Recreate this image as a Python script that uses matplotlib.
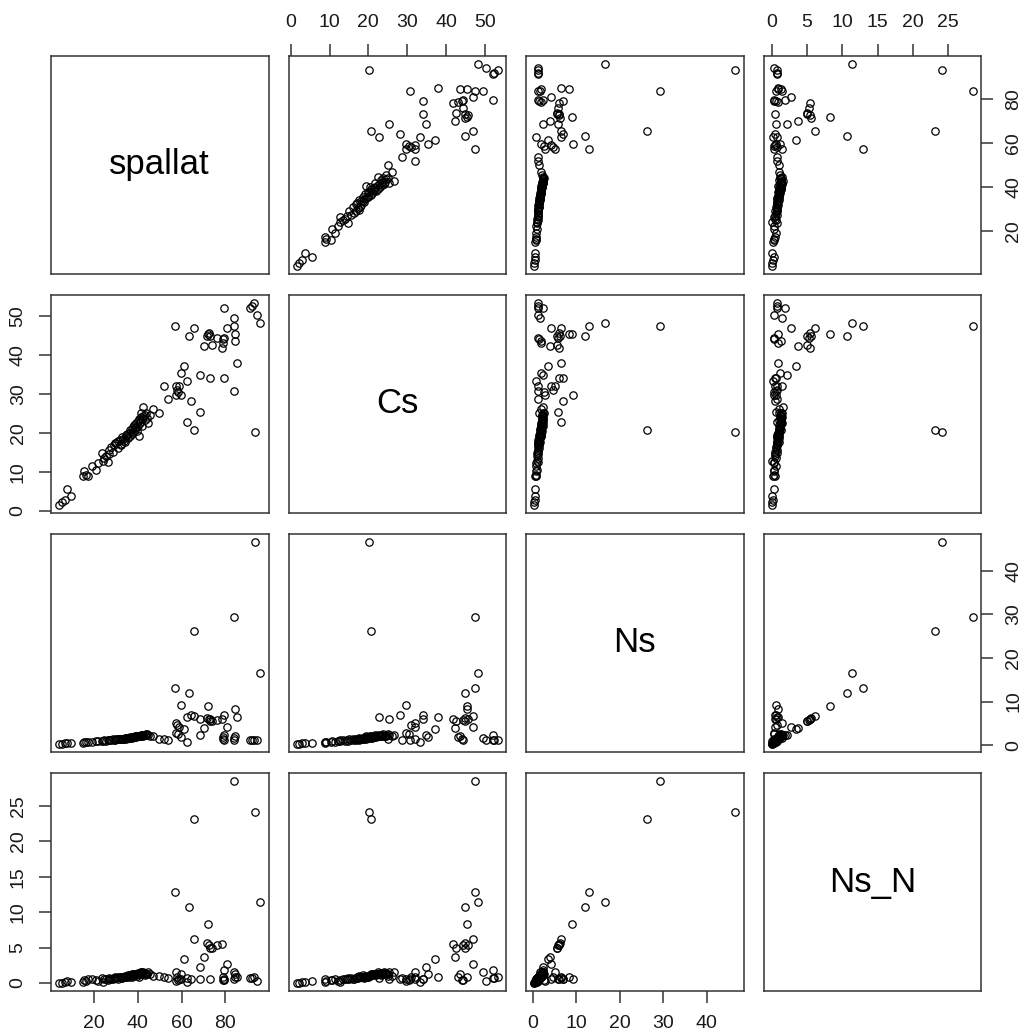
import numpy as np
import matplotlib.pyplot as plt

plt.rcParams['font.family'] = ['Liberation Sans', 'DejaVu Sans']

names = ['spallat', 'Cs', 'Ns', 'Ns_N']

spallat = [4.1, 5.5, 6.8, 7.9, 9.7, 15.0, 15.6, 16.4, 17.1, 19.1, 21.0, 22.0, 23.6, 24.0, 24.8,
           25.5, 26.2, 27.0, 28.0, 28.8, 29.5, 30.3, 31.0, 31.8, 32.5, 33.0, 33.6, 34.2, 34.8, 35.5,
           36.0, 36.6, 37.2, 37.8, 38.3, 38.9, 39.4, 39.9, 40.4, 40.9, 41.3, 41.8, 42.3, 42.6, 43.2,
           43.8, 44.5, 45.4, 46.9, 49.9,
           26.8, 29.0, 30.8, 32.2, 33.3, 34.5, 35.2, 36.3, 37.5, 38.0, 38.6, 39.1, 39.7, 40.1, 40.7,
           41.1, 41.6, 42.0, 43.5, 44.1,
           51.8, 53.6, 57.4, 58.1, 58.9, 57.4, 59.6, 58.5, 59.6, 61.1, 62.6, 64.1, 62.6, 65.6, 68.6,
           68.6, 73.1, 79.2, 57.0, 65.6, 63.3, 72.0, 71.5, 72.5, 73.0, 70.1, 73.8, 76.1, 78.3, 79.4,
           79.4, 80.7, 83.7, 83.7, 84.6, 84.6, 85.2, 83.7, 91.2, 92.0, 93.0, 94.3, 96.0, 93.4, 78.8,
           79.0]
Cs = [1.5, 2.2, 2.8, 5.6, 3.7, 8.8, 10.3, 9.2, 8.8, 11.4, 10.5, 12.2, 14.8, 12.8, 13.5,
      14.0, 12.6, 15.5, 16.4, 15.0, 17.5, 17.4, 16.0, 18.2, 17.0, 19.0, 18.0, 17.6, 19.5, 18.6,
      20.0, 19.2, 21.0, 20.2, 22.0, 20.8, 21.5, 23.0, 19.3, 22.4, 24.0, 21.8, 24.3, 26.7, 23.2,
      25.0, 22.6, 24.5, 26.0, 25.0,
      14.6, 16.8, 17.9, 16.8, 18.5, 18.9, 19.8, 20.6, 19.8, 21.4, 21.2, 22.6, 20.5, 21.7, 23.6,
      22.9, 25.2, 23.5, 24.6, 23.8,
      32.0, 28.6, 32.0, 31.1, 32.0, 29.8, 29.8, 30.5, 35.4, 37.1, 33.3, 28.1, 22.8, 20.7, 25.4,
      34.8, 34.0, 34.0, 47.4, 47.0, 44.9, 45.3, 45.0, 45.6, 44.8, 42.3, 42.7, 44.4, 41.9, 52.1,
      44.4, 47.0, 49.6, 47.4, 45.3, 43.6, 38.0, 30.7, 52.1, 52.5, 53.4, 50.3, 48.3, 20.2, 43.0,
      44.0]
Ns = [0.3, 0.35, 0.4, 0.45, 0.5, 0.6, 0.7, 0.65, 0.8, 0.8, 0.9, 0.85, 1.0, 0.9, 1.1,
      1.0, 1.2, 1.1, 1.2, 1.3, 1.2, 1.3, 1.4, 1.3, 1.5, 1.4, 1.5, 1.6, 1.5, 1.7,
      1.6, 1.8, 1.7, 1.9, 1.8, 2.0, 1.9, 2.1, 2.0, 2.2, 2.1, 2.3, 2.2, 2.4, 2.3,
      2.5, 2.4, 2.2, 2.0, 1.5,
      1.1, 1.25, 1.35, 1.45, 1.5, 1.6, 1.65, 1.7, 1.8, 1.85, 1.95, 2.0, 2.05, 2.1, 2.15,
      2.2, 2.25, 2.3, 2.35, 2.45,
      1.3, 1.2, 5.0, 4.6, 4.2, 2.7, 9.3, 2.6, 1.8, 3.6, 0.75, 6.9, 6.5, 26.2, 5.9,
      2.4, 6.1, 6.9, 13.0, 6.6, 12.0, 8.9, 6.2, 6.0, 5.6, 4.0, 5.5, 5.8, 6.0, 2.3,
      1.1, 4.2, 1.6, 29.3, 8.4, 2.0, 6.5, 1.2, 1.1, 1.1, 1.1, 1.1, 16.6, 46.6, 1.8,
      1.4]
Ns_N = [0.0, 0.05, 0.2, 0.3, 0.1, 0.2, 0.4, 0.3, 0.5, 0.6, 0.4, 0.3, 0.7, 0.1, 0.6,
        0.5, 0.4, 0.7, 0.6, 0.5, 0.8, 0.7, 0.6, 0.9, 0.8, 0.7, 0.9, 1.0, 0.8, 1.1,
        0.9, 1.0, 1.2, 1.0, 1.1, 1.3, 1.2, 1.4, 0.9, 1.3, 1.5, 1.2, 1.4, 1.6, 1.1,
        1.3, 1.5, 1.2, 1.0, 1.0,
        0.5, 0.7, 0.8, 0.7, 0.9, 0.8, 1.0, 1.1, 0.9, 1.2, 1.1, 1.3, 1.0, 1.2, 1.4,
        1.3, 1.5, 1.3, 1.4, 1.2,
        0.8, 0.7, 1.5, 0.8, 0.5, 0.3, 0.6, 0.4, 1.2, 3.4, 0.2, 0.5, 0.7, 23.1, 0.6,
        2.2, 0.5, 0.6, 12.9, 6.2, 10.7, 8.3, 5.6, 5.4, 5.0, 3.7, 5.0, 5.3, 5.5, 1.9,
        0.4, 2.7, 1.5, 28.5, 0.9, 1.3, 0.9, 0.6, 0.7, 0.7, 0.8, 0.3, 11.4, 24.1, 0.9,
        0.4]

ticks = {'spallat': [20, 40, 60, 80],
         'Cs': [0, 10, 20, 30, 40, 50],
         'Ns': [0, 10, 20, 30, 40],
         'Ns_N': [0, 5, 10, 15, 20, 25]}

data = {'spallat': np.array(spallat), 'Cs': np.array(Cs),
        'Ns': np.array(Ns), 'Ns_N': np.array(Ns_N)}

def lims(v):
    # R style 4% padding
    lo, hi = v.min(), v.max()
    d = 0.04 * (hi - lo)
    return lo - d, hi + d

fig, axes = plt.subplots(4, 4, figsize=(10.33, 10.32), dpi=100)
plt.subplots_adjust(left=0.0494, right=0.9497, bottom=0.0397, top=0.946,
                    wspace=0.092, hspace=0.097)

tcol = '#1a1a1a'
for i in range(4):
    for j in range(4):
        ax = axes[i][j]
        for s in ax.spines.values():
            s.set_color('#333333')
            s.set_linewidth(1.1)
        ax.tick_params(which='both', bottom=False, top=False, left=False, right=False,
                       labelbottom=False, labeltop=False, labelleft=False, labelright=False)
        if i == j:
            ax.text(0.5, 0.5, names[i], ha='center', va='center', fontsize=25,
                    transform=ax.transAxes)
            ax.set_xticks([])
            ax.set_yticks([])
            continue
        x = data[names[j]]
        y = data[names[i]]
        ax.plot(x, y, 'o', mfc='none', mec='black', ms=5.3, mew=0.9)
        ax.set_xlim(lims(x))
        ax.set_ylim(lims(y))
        ax.set_xticks(ticks[names[j]])
        ax.set_yticks(ticks[names[i]])

        kw = dict(length=8.5, width=1.1, pad=9, labelsize=14, colors='#333333',
                  labelcolor=tcol, direction='out')
        if i == 0 and j % 2 == 1:
            ax.tick_params(axis='x', top=True, labeltop=True, **kw)
        if i == 3 and j % 2 == 0:
            ax.tick_params(axis='x', bottom=True, labelbottom=True, **kw)
        if j == 0 and i % 2 == 1:
            ax.tick_params(axis='y', left=True, labelleft=True, labelrotation=90, **kw)
        if j == 3 and i % 2 == 0:
            ax.tick_params(axis='y', right=True, labelright=True, labelrotation=90, **kw)
        for lab in ax.get_yticklabels():
            lab.set_va('center')

plt.savefig('out.png', dpi=100)
